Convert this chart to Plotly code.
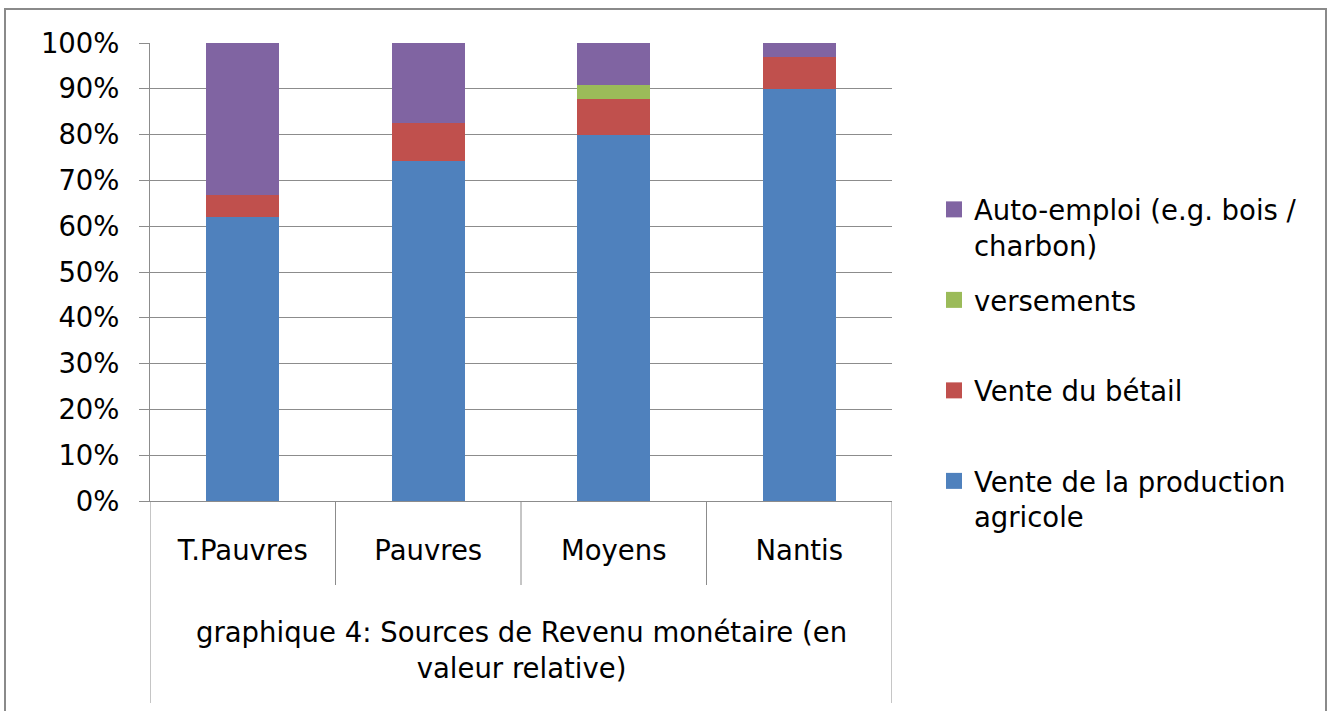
import plotly.graph_objects as go

categories = ["T.Pauvres", "Pauvres", "Moyens", "Nantis"]
vente_production = [0.620, 0.743, 0.800, 0.899]
vente_betail = [0.048, 0.083, 0.077, 0.070]
versements = [0.0, 0.0, 0.031, 0.0]
auto_emploi = [0.332, 0.174, 0.092, 0.031]

series_names = ["Vente de la production<br>agricole", "Vente du bétail",
                "versements", "Auto-emploi (e.g. bois /<br>charbon)"]
series_values = [vente_production, vente_betail, versements, auto_emploi]
series_colors = ["#4F81BD", "#C0504D", "#9BBB59", "#8064A2"]

outer_label = "graphique 4: Sources de Revenu monétaire (en<br>valeur relative)"
y_ticks = [0, 0.1, 0.2, 0.3, 0.4, 0.5, 0.6, 0.7, 0.8, 0.9, 1.0]

FONT = "DejaVu Sans"
FS = 27.5
GRID = "#8C8C8C"

fig = go.Figure()
for name, vals, col in zip(series_names, series_values, series_colors):
    fig.add_trace(go.Bar(x=categories, y=vals, name=name.replace("<br>", " "),
                         marker=dict(color=col, line=dict(width=0)),
                         width=0.394, showlegend=False))

# legend entries (top to bottom), each padded to two lines for even spacing
legend_order = [3, 2, 1, 0]
for i in legend_order:
    txt = series_names[i]
    if "<br>" not in txt:
        txt = txt + "<br>\u00a0"
    fig.add_trace(go.Scatter(x=[None], y=[None], mode="markers", name=txt,
                             legendgroup=f"g{i}",
                             marker=dict(symbol="square", size=18, color=series_colors[i])))

W, H = 1332, 711
L, R, T, B = 150, 892, 43, 501
pw, ph = R - L, B - T

def px_x(px):
    return (px - L) / pw

def px_y(py):
    return (B - py) / ph

shapes = []
n = len(categories)
for i in range(n + 1):
    bottom = 703 if i in (0, n) else 585
    shapes.append(dict(type="line", xref="x", yref="paper", x0=i - 0.5, x1=i - 0.5,
                       y0=0, y1=px_y(bottom), line=dict(color=GRID, width=1)))
# outer chart frame
shapes.append(dict(type="rect", xref="paper", yref="paper",
                   x0=px_x(5), x1=px_x(1326), y0=px_y(730), y1=px_y(9),
                   line=dict(color="#8A8A8A", width=2), fillcolor="rgba(0,0,0,0)", layer="below"))

fig.update_layout(
    width=W, height=H,
    margin=dict(l=L, r=W - R, t=T, b=H - B, autoexpand=False),
    barmode="stack",
    bargap=0,
    plot_bgcolor="white", paper_bgcolor="white",
    font=dict(family=FONT, size=FS, color="#000000"),
    showlegend=True,
    legend=dict(x=px_x(934), xanchor="left", y=px_y(185), yanchor="top",
                traceorder="grouped", tracegroupgap=16, valign="top",
                font=dict(family=FONT, size=FS, color="#000000"),
                bgcolor="rgba(0,0,0,0)", itemsizing="trace"),
    xaxis=dict(type="category", range=[-0.5, n - 0.5], showgrid=False,
               showline=True, linecolor=GRID, linewidth=1,
               ticks="outside", ticklen=25, tickcolor="rgba(0,0,0,0)",
               tickfont=dict(family=FONT, size=FS, color="#000000"), fixedrange=True),
    yaxis=dict(range=[0, 1], tickvals=y_ticks, tickformat=".0%",
               showgrid=True, gridcolor=GRID, gridwidth=1,
               showline=True, linecolor=GRID, linewidth=1,
               ticks="outside", ticklen=10, tickcolor=GRID,
               ticklabelstandoff=14,
               tickfont=dict(family=FONT, size=FS, color="#000000"),
               zeroline=False, fixedrange=True),
    shapes=shapes,
    annotations=[dict(text=outer_label, xref="paper", yref="paper",
                      x=0.5, y=px_y(650), xanchor="center", yanchor="middle",
                      showarrow=False, align="center",
                      font=dict(family=FONT, size=FS, color="#000000"))],
)

fig.write_html("out.html", config={"displayModeBar": False},
               post_script="document.body.style.margin='0px';document.body.style.overflow='hidden';")
